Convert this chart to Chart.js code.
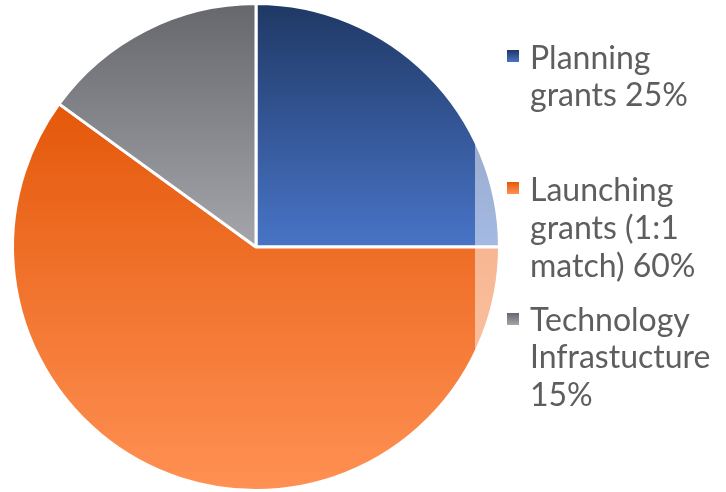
<!DOCTYPE html>
<html><head><meta charset="utf-8">
<script src="https://cdn.jsdelivr.net/npm/chart.js@4"></script>
<style>html,body{margin:0;padding:0;background:#fff;}#wrap{width:726px;height:492px;}</style>
</head><body><div id="wrap"><canvas id="c" width="726" height="492"></canvas></div>
<script>
const categories = [["Planning","grants 25%"],["Launching","grants (1:1","match) 60%"],["Technology","Infrastucture","15%"]];
const values = [25, 60, 15];
const gradTop = ["#1f3864", "#e4580a", "#66676c"];
const gradBottom = ["#4874c7", "#ff9154", "#a4a6ab"];

function sliceExtent(chart, i) {
  const area = chart.chartArea;
  const cx = (area.left + area.right) / 2, cy = (area.top + area.bottom) / 2;
  const r = Math.min(area.right - area.left, area.bottom - area.top) / 2;
  const total = values.reduce((a, b) => a + b, 0);
  let start = 0; for (let k = 0; k < i; k++) start += values[k] / total * Math.PI * 2;
  const end = start + values[i] / total * Math.PI * 2;
  let minY = cy, maxY = cy;
  for (let s = 0; s <= 200; s++) {
    const a = start + (end - start) * s / 200;
    const y = cy - r * Math.cos(a);
    minY = Math.min(minY, y); maxY = Math.max(maxY, y);
  }
  return [minY, maxY];
}

function sliceColor(ctx) {
  const chart = ctx.chart;
  if (!chart.chartArea) return gradBottom[ctx.dataIndex];
  const i = ctx.dataIndex;
  const [y0, y1] = sliceExtent(chart, i);
  const g = chart.ctx.createLinearGradient(0, y0, 0, y1);
  g.addColorStop(0, gradTop[i]);
  g.addColorStop(1, gradBottom[i]);
  return g;
}

const legendPlugin = {
  id: 'customLegend',
  afterDraw(chart) {
    const c = chart.ctx;
    c.save();
    c.fillStyle = 'rgba(255,255,255,0.5)';
    c.fillRect(475, 20, 251, 400);
    const itemTops = [50, 182, 313];
    const baselines = [[69, 106], [201, 239, 277], [331, 368, 406]];
    c.font = '32px "Lato", "Noto Sans", sans-serif';
    c.textBaseline = 'alphabetic';
    categories.forEach((lines, i) => {
      const g = c.createLinearGradient(0, itemTops[i], 0, itemTops[i] + 12);
      g.addColorStop(0, gradTop[i]); g.addColorStop(1, gradBottom[i]);
      c.fillStyle = g;
      c.fillRect(507, itemTops[i], 12, 12);
      c.fillStyle = '#5e5e5e';
      lines.forEach((t, j) => c.fillText(t, 530, baselines[i][j]));
    });
    c.restore();
  }
};

new Chart(document.getElementById('c'), {
  type: 'pie',
  data: {
    labels: categories,
    datasets: [{
      data: values,
      backgroundColor: sliceColor,
      borderColor: '#ffffff',
      borderWidth: 3
    }]
  },
  options: {
    responsive: false,
    animation: false,
    layout: { padding: { left: 11, right: 225, top: 2, bottom: 0 } },
    plugins: { legend: { display: false }, tooltip: { enabled: false } }
  },
  plugins: [legendPlugin]
});
</script></body></html>
